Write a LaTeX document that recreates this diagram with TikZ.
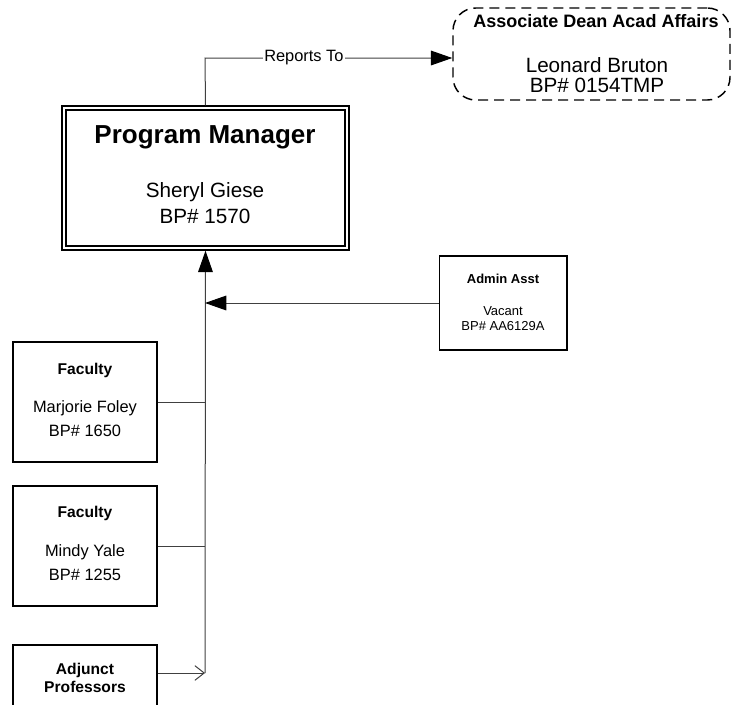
\documentclass[tikz,border=0pt]{standalone}
\usepackage{fontspec}
\setmainfont{Liberation Sans}
\usetikzlibrary{arrows.meta}
\begin{document}
\begin{tikzpicture}[x=0.75pt,y=-0.75pt,
  box/.style={draw=black,line width=1.3pt,minimum width=#1,inner sep=0pt},
  conn/.style={draw=black!75,line width=0.75pt},
  bigtip/.style={-{Triangle[length=16pt,width=11pt,color=black]}},
  txt/.style={inner sep=0pt,text height=0.716em,text depth=0pt,anchor=center},
  ttlA/.style={txt,font=\bfseries\fontsize{19.5}{22}\selectfont},
  medB/.style={txt,font=\bfseries\fontsize{13.5}{16}\selectfont},
  med/.style={txt,font=\fontsize{15.5}{18}\selectfont},
  facB/.style={txt,font=\bfseries\fontsize{11.7}{14}\selectfont},
  fac/.style={txt,font=\fontsize{12.3}{14}\selectfont},
  smB/.style={txt,font=\bfseries\fontsize{9.75}{12}\selectfont},
  sm/.style={txt,font=\fontsize{9.75}{12}\selectfont},
  rep/.style={fill=white,inner sep=1pt,font=\fontsize{12.3}{14}\selectfont}]
\useasboundingbox (0,0) rectangle (732,704);
\clip (0,0) rectangle (732,704);

% boxes
\node[draw=black,line width=1.1pt,double=white,double distance=1.9pt,
      minimum width=212.25pt,minimum height=105pt,inner sep=0pt] (pm) at (205.5,178) {};
\node[draw=black,line width=1.1pt,dash pattern=on 7.5pt off 4.5pt,rounded corners=17pt,
      minimum width=207.75pt,minimum height=69pt,inner sep=0pt] (assoc) at (591.5,54) {};
\node[box=95.6pt,minimum height=70.5pt] (admin) at (503.25,303) {};
\node[box=108pt,minimum height=90pt] (fac1) at (85,402) {};
\node[box=108pt,minimum height=90pt] (fac2) at (85,546) {};
\node[box=108pt,minimum height=90pt] (adj) at (85,705) {};

% texts
\node[ttlA] (pmt) at (205,139) {Program Manager};
\node[med] (pmn) at (205,193) {Sheryl Giese};
\node[med] (pmb) at (205,219) {BP\# 1570};

\node[medB] (at) at (596,23) {Associate Dean Acad Affairs};
\node[med] (an) at (597,68) {Leonard Bruton};
\node[med] (ab) at (597,88) {BP\# 0154TMP};

\node[smB] (adt) at (503,279) {Admin Asst};
\node[sm] (adn) at (503,311) {Vacant};
\node[sm] (adb) at (503,326) {BP\# AA6129A};

\node[facB] (f1t) at (85,370) {Faculty};
\node[fac] (f1n) at (85,408) {Marjorie Foley};
\node[fac] (f1b) at (85,432) {BP\# 1650};

\node[facB] (f2t) at (85,513) {Faculty};
\node[fac] (f2n) at (85,552) {Mindy Yale};
\node[fac] (f2b) at (85,576) {BP\# 1255};

\node[facB] (jt) at (85,670) {Adjunct};
\node[facB] (jp) at (85,688) {Professors};

% connectors
\coordinate (rt) at (205,58);
\coordinate (bot) at (205,673);
\draw[conn,bigtip] ([yshift=1.5pt]pm.north) -- (rt) -- node[rep,pos=0.4] (rl) {Reports To} (rt -| assoc.west);
\draw[conn,bigtip] (bot) -- ([yshift=-1.5pt]pm.south);
\draw[conn,bigtip] (admin.west) -- (admin.west -| bot);
\draw[conn] (fac1.east) -- (fac1.east -| bot);
\draw[conn] (fac2.east) -- (fac2.east -| bot);
\draw[conn,-{Straight Barb[length=7pt,width=11pt]}] (adj.east |- bot) -- (bot);
\end{tikzpicture}
\end{document}
